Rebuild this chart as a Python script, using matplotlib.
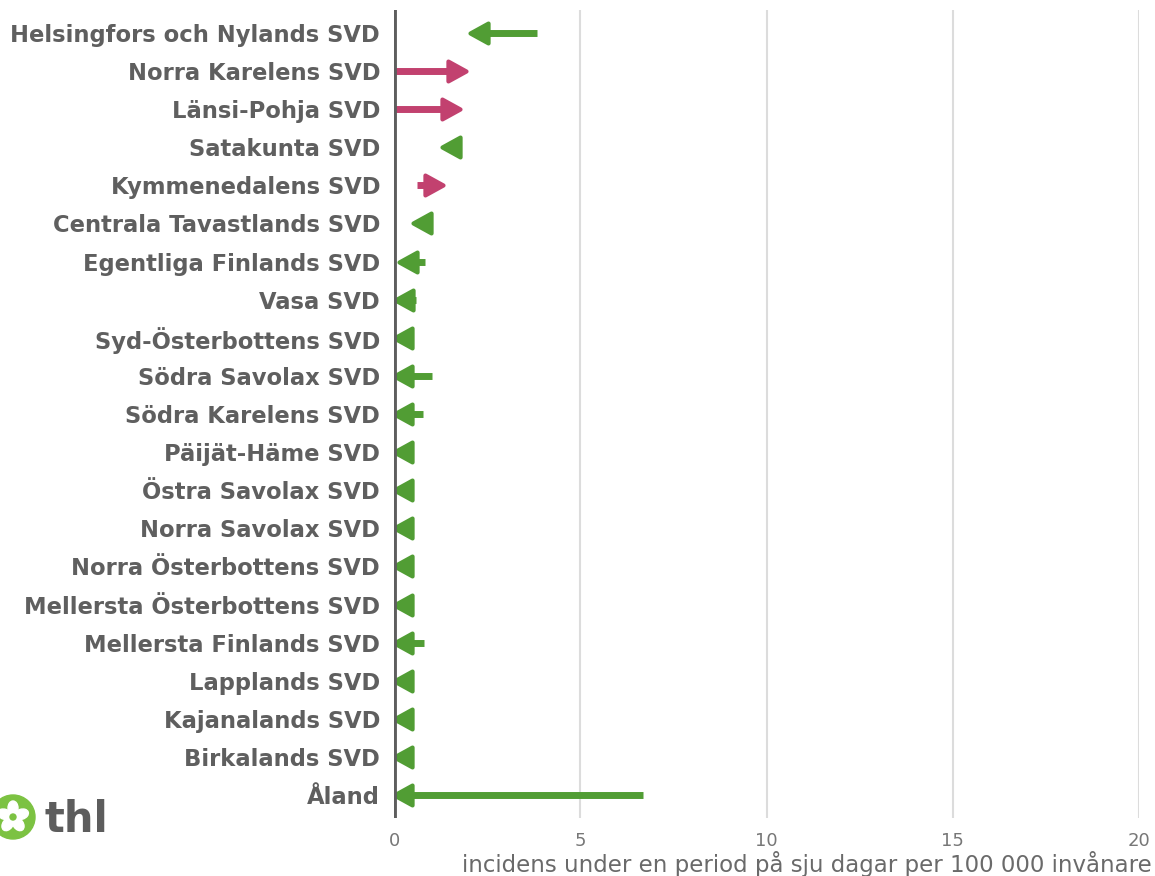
import numpy as np
import matplotlib.pyplot as plt
from matplotlib.path import Path
from matplotlib.patches import Circle, Ellipse

# data: incidence previous period -> current period
regions = ['Helsingfors och Nylands SVD', 'Norra Karelens SVD', 'Länsi-Pohja SVD',
           'Satakunta SVD', 'Kymmenedalens SVD', 'Centrala Tavastlands SVD',
           'Egentliga Finlands SVD', 'Vasa SVD', 'Syd-Österbottens SVD',
           'Södra Savolax SVD', 'Södra Karelens SVD', 'Päijät-Häme SVD',
           'Östra Savolax SVD', 'Norra Savolax SVD', 'Norra Österbottens SVD',
           'Mellersta Österbottens SVD', 'Mellersta Finlands SVD', 'Lapplands SVD',
           'Kajanalands SVD', 'Birkalands SVD', 'Åland']
previous = [3.84, 0.0, 0.0, 1.75, 0.62, 1.0, 0.83, 0.59, 0.35, 1.02, 0.78,
            0.48, 0.35, 0.35, 0.35, 0.35, 0.8, 0.35, 0.35, 0.35, 6.69]
current = [2.04, 1.93, 1.77, 1.29, 1.31, 0.51, 0.13, 0.03, 0.0, 0.0, 0.0,
           0.0, 0.0, 0.0, 0.0, 0.0, 0.0, 0.0, 0.0, 0.0, 0.0]
xticks = [0, 5, 10, 15, 20]

GREEN = '#519d34'
PINK = '#c2416f'
TEXT = '#5f5f5f'

# arrow head markers with the tip at the data point
head_left = Path([(0, 0), (1, 0.55), (1, -0.55), (0, 0)],
                 [Path.MOVETO, Path.LINETO, Path.LINETO, Path.CLOSEPOLY])
head_right = Path([(0, 0), (-1, 0.55), (-1, -0.55), (0, 0)],
                  [Path.MOVETO, Path.LINETO, Path.LINETO, Path.CLOSEPOLY])

fig = plt.figure(figsize=(11.55, 8.76), dpi=100)
ax = fig.add_axes([394/1155, 1-818/876, (1139-394)/1155, (818-10)/876])
ax.set_xlim(0, 20)
ax.set_ylim(len(regions) - 0.4, -0.6)

# shaft stops a few pixels inside the head so it doesn't poke through the tip
px_per_unit = ax.transData.transform((1, 0))[0] - ax.transData.transform((0, 0))[0]
inset = 9 / px_per_unit

for i, (p, c) in enumerate(zip(previous, current)):
    up = c > p
    col = PINK if up else GREEN
    end = c - inset if up else c + inset
    if abs(p - c) > inset:
        ax.plot([p, end], [i, i], color=col, lw=5, solid_capstyle='butt', zorder=3)
    ax.plot([c], [i], marker=head_right if up else head_left, ms=26,
            color=col, mec=col, mew=3, mfc=col, zorder=4,
            linestyle='none')

for t in xticks[1:]:
    ax.axvline(t, color='#dcdcdc', lw=1.5, zorder=1)
ax.axvline(0, color='#5e5e5e', lw=3.5, zorder=5)

ax.set_xticks(xticks)
ax.set_xticklabels([str(t) for t in xticks], color='#777777', fontsize=13)
ax.set_yticks(range(len(regions)))
ax.set_yticklabels(regions, fontsize=16.3, fontweight='bold', color=TEXT,
                   family='DejaVu Sans')
ax.tick_params(axis='both', length=0)
ax.tick_params(axis='x', pad=10)
ax.tick_params(axis='y', pad=10)
for s in ax.spines.values():
    s.set_visible(False)

fig.text(1152/1155, 1-864/876, 'incidens under en period på sju dagar per 100 000 invånare',
         ha='right', va='center', fontsize=16.5, color='#6a6a6a')

# thl logo
lx, ly = 13, 876 - 817
fig.patches.append(Circle((lx, ly), 22, transform=None, color='#7cc242', zorder=10))
for k in range(5):
    ang = np.deg2rad(90 + 72*k)
    fig.patches.append(Ellipse((lx + 9*np.cos(ang), ly + 9*np.sin(ang)), 10, 14,
                               angle=np.rad2deg(ang) - 90, transform=None,
                               color='white', zorder=11))
fig.patches.append(Circle((lx, ly), 3, transform=None, color='#7cc242', zorder=12))
fig.text(44/1155, 1-820/876, 'thl', fontsize=30, fontweight='bold',
         color='#5d5d5d', va='center', ha='left')

fig.savefig('out.png', dpi=100)
